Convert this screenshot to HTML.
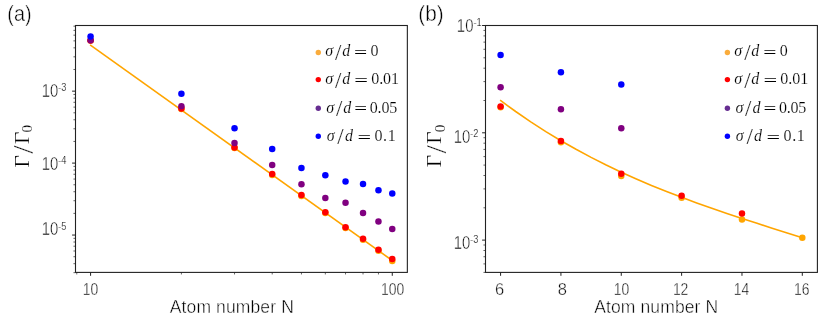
<!DOCTYPE html>
<html><head><meta charset="utf-8"><title>Chart</title>
<style>
html,body{margin:0;padding:0;background:#fff;}
body{width:830px;height:326px;overflow:hidden;font-family:"Liberation Sans",sans-serif;}
svg{display:block;will-change:transform;}
.sans{font-family:"Liberation Sans",sans-serif;fill:#000;stroke:#fff;stroke-width:0.42px;}
.sup{font-family:"Liberation Sans",sans-serif;fill:#000;stroke:#fff;stroke-width:0.2px;}
.serif{font-family:"Liberation Serif",serif;fill:#000;stroke:#fff;stroke-width:0.15px;}
.it{font-style:italic;}
</style></head><body>
<svg width="830" height="326" viewBox="0 0 830 326">
<rect x="0" y="0" width="830" height="326" fill="#ffffff"/>
<rect x="75.5" y="25.5" width="331.85" height="246.90" fill="none" stroke="#222222" stroke-width="1.1"/>
<path d="M90.58 272.40L90.58 275.80M392.27 272.40L392.27 275.80M75.50 91.15L72.10 91.15M75.50 163.10L72.10 163.10M75.50 235.05L72.10 235.05" stroke="#222222" stroke-width="1.0" fill="none"/>
<path d="M76.78 272.40L76.78 274.45M181.40 272.40L181.40 274.45M234.52 272.40L234.52 274.45M272.21 272.40L272.21 274.45M301.45 272.40L301.45 274.45M325.34 272.40L325.34 274.45M345.53 272.40L345.53 274.45M363.03 272.40L363.03 274.45M378.46 272.40L378.46 274.45M75.50 69.49L73.45 69.49M75.50 56.82L73.45 56.82M75.50 47.83L73.45 47.83M75.50 40.86L73.45 40.86M75.50 35.16L73.45 35.16M75.50 30.35L73.45 30.35M75.50 26.17L73.45 26.17M75.50 141.44L73.45 141.44M75.50 128.77L73.45 128.77M75.50 119.78L73.45 119.78M75.50 112.81L73.45 112.81M75.50 107.11L73.45 107.11M75.50 102.30L73.45 102.30M75.50 98.12L73.45 98.12M75.50 94.44L73.45 94.44M75.50 213.39L73.45 213.39M75.50 200.72L73.45 200.72M75.50 191.73L73.45 191.73M75.50 184.76L73.45 184.76M75.50 179.06L73.45 179.06M75.50 174.25L73.45 174.25M75.50 170.07L73.45 170.07M75.50 166.39L73.45 166.39M75.50 272.67L73.45 272.67M75.50 263.68L73.45 263.68M75.50 256.71L73.45 256.71M75.50 251.01L73.45 251.01M75.50 246.20L73.45 246.20M75.50 242.02L73.45 242.02M75.50 238.34L73.45 238.34" stroke="#222222" stroke-width="0.7" fill="none"/>
<path d="M90.08 44.8L392.27 260.5" stroke="#FFA500" stroke-width="1.6" fill="none"/>
<circle cx="90.58" cy="40.60" r="3.25" fill="#FFA500"/>
<circle cx="181.40" cy="109.00" r="3.25" fill="#FFA500"/>
<circle cx="234.52" cy="148.00" r="3.25" fill="#FFA500"/>
<circle cx="272.21" cy="174.90" r="3.25" fill="#FFA500"/>
<circle cx="301.45" cy="195.90" r="3.25" fill="#FFA500"/>
<circle cx="325.34" cy="213.10" r="3.25" fill="#FFA500"/>
<circle cx="345.53" cy="228.10" r="3.25" fill="#FFA500"/>
<circle cx="363.03" cy="239.70" r="3.25" fill="#FFA500"/>
<circle cx="378.46" cy="250.80" r="3.25" fill="#FFA500"/>
<circle cx="392.27" cy="260.90" r="3.25" fill="#FFA500"/>
<circle cx="90.58" cy="40.50" r="3.25" fill="#FF0000"/>
<circle cx="181.40" cy="108.40" r="3.25" fill="#FF0000"/>
<circle cx="234.52" cy="147.40" r="3.25" fill="#FF0000"/>
<circle cx="272.21" cy="174.10" r="3.25" fill="#FF0000"/>
<circle cx="301.45" cy="195.00" r="3.25" fill="#FF0000"/>
<circle cx="325.34" cy="212.30" r="3.25" fill="#FF0000"/>
<circle cx="345.53" cy="227.20" r="3.25" fill="#FF0000"/>
<circle cx="363.03" cy="238.70" r="3.25" fill="#FF0000"/>
<circle cx="378.46" cy="249.80" r="3.25" fill="#FF0000"/>
<circle cx="392.27" cy="258.90" r="3.25" fill="#FF0000"/>
<circle cx="90.58" cy="40.20" r="3.25" fill="#800080"/>
<circle cx="181.40" cy="106.20" r="3.25" fill="#800080"/>
<circle cx="234.52" cy="143.00" r="3.25" fill="#800080"/>
<circle cx="272.21" cy="165.00" r="3.25" fill="#800080"/>
<circle cx="301.45" cy="184.30" r="3.25" fill="#800080"/>
<circle cx="325.34" cy="198.00" r="3.25" fill="#800080"/>
<circle cx="345.53" cy="202.80" r="3.25" fill="#800080"/>
<circle cx="363.03" cy="213.10" r="3.25" fill="#800080"/>
<circle cx="378.46" cy="221.60" r="3.25" fill="#800080"/>
<circle cx="392.27" cy="229.10" r="3.25" fill="#800080"/>
<circle cx="90.58" cy="36.40" r="3.25" fill="#0000FF"/>
<circle cx="181.40" cy="93.70" r="3.25" fill="#0000FF"/>
<circle cx="234.52" cy="128.20" r="3.25" fill="#0000FF"/>
<circle cx="272.21" cy="149.10" r="3.25" fill="#0000FF"/>
<circle cx="301.45" cy="167.90" r="3.25" fill="#0000FF"/>
<circle cx="325.34" cy="175.30" r="3.25" fill="#0000FF"/>
<circle cx="345.53" cy="181.60" r="3.25" fill="#0000FF"/>
<circle cx="363.03" cy="184.10" r="3.25" fill="#0000FF"/>
<circle cx="378.46" cy="190.20" r="3.25" fill="#0000FF"/>
<circle cx="392.27" cy="193.50" r="3.25" fill="#0000FF"/>
<g transform="translate(90.58 294.60) scale(0.8 1)"><text class="sans" font-size="17.400000000000002" text-anchor="middle" >10</text></g>
<g transform="translate(392.57 294.60) scale(0.8 1)"><text class="sans" font-size="17.400000000000002" text-anchor="middle" >100</text></g>
<g transform="translate(41.67 97.00) scale(0.845 1)"><text class="sans" font-size="17.6" text-anchor="start" >10</text></g>
<g transform="translate(58.19 91.10) scale(0.88 1)"><text class="sup" font-size="10.5" text-anchor="start" >-3</text></g>
<g transform="translate(41.67 169.50) scale(0.845 1)"><text class="sans" font-size="17.6" text-anchor="start" >10</text></g>
<g transform="translate(58.19 163.60) scale(0.88 1)"><text class="sup" font-size="10.5" text-anchor="start" >-4</text></g>
<g transform="translate(41.67 235.40) scale(0.845 1)"><text class="sans" font-size="17.6" text-anchor="start" >10</text></g>
<g transform="translate(58.19 229.50) scale(0.88 1)"><text class="sup" font-size="10.5" text-anchor="start" >-5</text></g>
<g transform="translate(231.85 313.20) scale(1.0 1)"><text class="sans" font-size="17.5" text-anchor="middle" letter-spacing="0.12">Atom number N</text></g>
<g class="serif" transform="translate(28.6 166.9) rotate(-90)"><text font-size="21.4" x="-0.62" y="0">Γ</text><text font-size="30" x="13.2" y="4.4" style="stroke-width:0.3px">/</text><text font-size="21.4" x="22.8" y="0">Γ</text><text font-size="15.1" x="34.4" y="3.7">0</text></g>
<g transform="translate(7.37 21.20) scale(0.945 1.03)"><text class="sans" font-size="21" text-anchor="start" >(a)</text></g>
<circle cx="318.30" cy="52.5" r="2.7" fill="#FAAC3C"/>
<g class="serif" font-size="16.0"><text class="it" x="325.22" y="56.2">σ</text><text font-size="22.9" x="335.10" y="59.50" style="stroke-width:0.2px">/</text><text class="it" x="342.22" y="56.2">d</text><g transform="translate(355.20 57.70) scale(1.465 1)"><text x="-0.80" y="0" style="stroke:none">=</text></g><text x="370.59" y="56.2" letter-spacing="0.72">0</text></g>
<circle cx="318.30" cy="79.6" r="2.7" fill="#FF0000"/>
<g class="serif" font-size="16.0"><text class="it" x="325.22" y="84.2">σ</text><text font-size="22.9" x="335.10" y="87.50" style="stroke-width:0.2px">/</text><text class="it" x="342.22" y="84.2">d</text><g transform="translate(355.50 85.70) scale(1.519 1)"><text x="-0.80" y="0" style="stroke:none">=</text></g><text x="371.19" y="84.2" letter-spacing="-0.04">0.01</text></g>
<circle cx="318.30" cy="108.3" r="2.7" fill="#662D91"/>
<g class="serif" font-size="16.0"><text class="it" x="326.32" y="112.7">σ</text><text font-size="22.9" x="336.00" y="116.00" style="stroke-width:0.2px">/</text><text class="it" x="343.32" y="112.7">d</text><g transform="translate(355.50 114.20) scale(1.425 1)"><text x="-0.80" y="0" style="stroke:none">=</text></g><text x="369.79" y="112.7" letter-spacing="-0.19">0.05</text></g>
<circle cx="318.30" cy="136.3" r="2.7" fill="#0000FF"/>
<g class="serif" font-size="16.0"><text class="it" x="326.72" y="141.1">σ</text><text font-size="22.9" x="337.30" y="144.40" style="stroke-width:0.2px">/</text><text class="it" x="345.02" y="141.1">d</text><g transform="translate(358.70 142.60) scale(1.505 1)"><text x="-0.80" y="0" style="stroke:none">=</text></g><text x="374.39" y="141.1" letter-spacing="0.68">0.1</text></g>
<rect x="485.5" y="25.5" width="331.90" height="246.90" fill="none" stroke="#222222" stroke-width="1.1"/>
<path d="M500.59 272.40L500.59 275.80M560.93 272.40L560.93 275.80M621.28 272.40L621.28 275.80M681.62 272.40L681.62 275.80M741.97 272.40L741.97 275.80M802.31 272.40L802.31 275.80M485.50 25.50L482.10 25.50M485.50 132.80L482.10 132.80M485.50 240.10L482.10 240.10" stroke="#222222" stroke-width="1.0" fill="none"/>
<path d="M485.50 100.50L483.45 100.50M485.50 81.60L483.45 81.60M485.50 68.20L483.45 68.20M485.50 57.80L483.45 57.80M485.50 49.30L483.45 49.30M485.50 42.12L483.45 42.12M485.50 35.90L483.45 35.90M485.50 30.41L483.45 30.41M485.50 207.80L483.45 207.80M485.50 188.90L483.45 188.90M485.50 175.50L483.45 175.50M485.50 165.10L483.45 165.10M485.50 156.60L483.45 156.60M485.50 149.42L483.45 149.42M485.50 143.20L483.45 143.20M485.50 137.71L483.45 137.71M485.50 272.40L483.45 272.40M485.50 263.90L483.45 263.90M485.50 256.72L483.45 256.72M485.50 250.50L483.45 250.50M485.50 245.01L483.45 245.01" stroke="#222222" stroke-width="0.7" fill="none"/>
<path d="M500.13 100.20L515.67 111.52L530.76 121.85L545.85 131.57L560.93 140.71L576.02 149.31L591.10 157.40L606.19 165.02L621.28 172.21L636.36 179.01L651.45 185.44L666.54 191.54L681.62 197.36L696.71 202.92L711.80 208.26L726.88 213.42L741.97 218.44L757.05 223.34L772.14 228.17L787.23 232.96L802.31 237.75" stroke="#FFA500" stroke-width="1.6" fill="none" stroke-linejoin="round"/>
<circle cx="500.59" cy="107.20" r="3.25" fill="#FFA500"/>
<circle cx="560.93" cy="142.20" r="3.25" fill="#FFA500"/>
<circle cx="621.28" cy="176.00" r="3.25" fill="#FFA500"/>
<circle cx="681.62" cy="197.70" r="3.25" fill="#FFA500"/>
<circle cx="741.97" cy="219.40" r="3.25" fill="#FFA500"/>
<circle cx="802.31" cy="237.70" r="3.25" fill="#FFA500"/>
<circle cx="500.59" cy="106.40" r="3.25" fill="#FF0000"/>
<circle cx="560.93" cy="141.00" r="3.25" fill="#FF0000"/>
<circle cx="621.28" cy="173.80" r="3.25" fill="#FF0000"/>
<circle cx="681.62" cy="195.70" r="3.25" fill="#FF0000"/>
<circle cx="741.97" cy="213.50" r="3.25" fill="#FF0000"/>
<circle cx="500.59" cy="87.30" r="3.25" fill="#800080"/>
<circle cx="560.93" cy="109.20" r="3.25" fill="#800080"/>
<circle cx="621.28" cy="128.30" r="3.25" fill="#800080"/>
<circle cx="500.59" cy="55.10" r="3.25" fill="#0000FF"/>
<circle cx="560.93" cy="72.20" r="3.25" fill="#0000FF"/>
<circle cx="621.28" cy="84.50" r="3.25" fill="#0000FF"/>
<g transform="translate(499.59 294.60) scale(0.95 1)"><text class="sans" font-size="17.400000000000002" text-anchor="middle" >6</text></g>
<g transform="translate(562.23 294.60) scale(0.95 1)"><text class="sans" font-size="17.400000000000002" text-anchor="middle" >8</text></g>
<g transform="translate(621.58 294.60) scale(0.8 1)"><text class="sans" font-size="17.400000000000002" text-anchor="middle" >10</text></g>
<g transform="translate(680.62 294.60) scale(0.8 1)"><text class="sans" font-size="17.400000000000002" text-anchor="middle" >12</text></g>
<g transform="translate(741.57 294.60) scale(0.8 1)"><text class="sans" font-size="17.400000000000002" text-anchor="middle" >14</text></g>
<g transform="translate(801.81 294.60) scale(0.8 1)"><text class="sans" font-size="17.400000000000002" text-anchor="middle" >16</text></g>
<g transform="translate(456.87 31.60) scale(0.845 1)"><text class="sans" font-size="17.6" text-anchor="start" >10</text></g>
<g transform="translate(473.39 25.70) scale(0.88 1)"><text class="sup" font-size="10.5" text-anchor="start" >-1</text></g>
<g transform="translate(453.77 143.30) scale(0.845 1)"><text class="sans" font-size="17.6" text-anchor="start" >10</text></g>
<g transform="translate(470.29 137.40) scale(0.88 1)"><text class="sup" font-size="10.5" text-anchor="start" >-2</text></g>
<g transform="translate(453.77 248.90) scale(0.845 1)"><text class="sans" font-size="17.6" text-anchor="start" >10</text></g>
<g transform="translate(470.29 243.00) scale(0.88 1)"><text class="sup" font-size="10.5" text-anchor="start" >-3</text></g>
<g transform="translate(656.25 313.20) scale(1.0 1)"><text class="sans" font-size="17.5" text-anchor="middle" letter-spacing="0.12">Atom number N</text></g>
<g class="serif" transform="translate(441.2 166.6) rotate(-90)"><text font-size="21.4" x="-0.62" y="0">Γ</text><text font-size="30" x="13.2" y="4.4" style="stroke-width:0.3px">/</text><text font-size="21.4" x="22.8" y="0">Γ</text><text font-size="15.1" x="34.4" y="3.7">0</text></g>
<g transform="translate(418.21 21.20) scale(0.99 1.03)"><text class="sans" font-size="21" text-anchor="start" >(b)</text></g>
<circle cx="727.40" cy="52.5" r="2.7" fill="#FAAC3C"/>
<g class="serif" font-size="16.0"><text class="it" x="734.32" y="56.2">σ</text><text font-size="22.9" x="744.20" y="59.50" style="stroke-width:0.2px">/</text><text class="it" x="751.32" y="56.2">d</text><g transform="translate(764.30 57.70) scale(1.465 1)"><text x="-0.80" y="0" style="stroke:none">=</text></g><text x="779.69" y="56.2" letter-spacing="0.72">0</text></g>
<circle cx="727.40" cy="79.6" r="2.7" fill="#FF0000"/>
<g class="serif" font-size="16.0"><text class="it" x="734.32" y="84.2">σ</text><text font-size="22.9" x="744.20" y="87.50" style="stroke-width:0.2px">/</text><text class="it" x="751.32" y="84.2">d</text><g transform="translate(764.60 85.70) scale(1.519 1)"><text x="-0.80" y="0" style="stroke:none">=</text></g><text x="780.29" y="84.2" letter-spacing="-0.04">0.01</text></g>
<circle cx="727.40" cy="108.3" r="2.7" fill="#662D91"/>
<g class="serif" font-size="16.0"><text class="it" x="735.42" y="112.7">σ</text><text font-size="22.9" x="745.10" y="116.00" style="stroke-width:0.2px">/</text><text class="it" x="752.42" y="112.7">d</text><g transform="translate(764.60 114.20) scale(1.425 1)"><text x="-0.80" y="0" style="stroke:none">=</text></g><text x="778.89" y="112.7" letter-spacing="-0.19">0.05</text></g>
<circle cx="727.40" cy="136.3" r="2.7" fill="#0000FF"/>
<g class="serif" font-size="16.0"><text class="it" x="735.82" y="141.1">σ</text><text font-size="22.9" x="746.40" y="144.40" style="stroke-width:0.2px">/</text><text class="it" x="754.12" y="141.1">d</text><g transform="translate(767.80 142.60) scale(1.505 1)"><text x="-0.80" y="0" style="stroke:none">=</text></g><text x="783.49" y="141.1" letter-spacing="0.68">0.1</text></g>
</svg>
</body></html>
